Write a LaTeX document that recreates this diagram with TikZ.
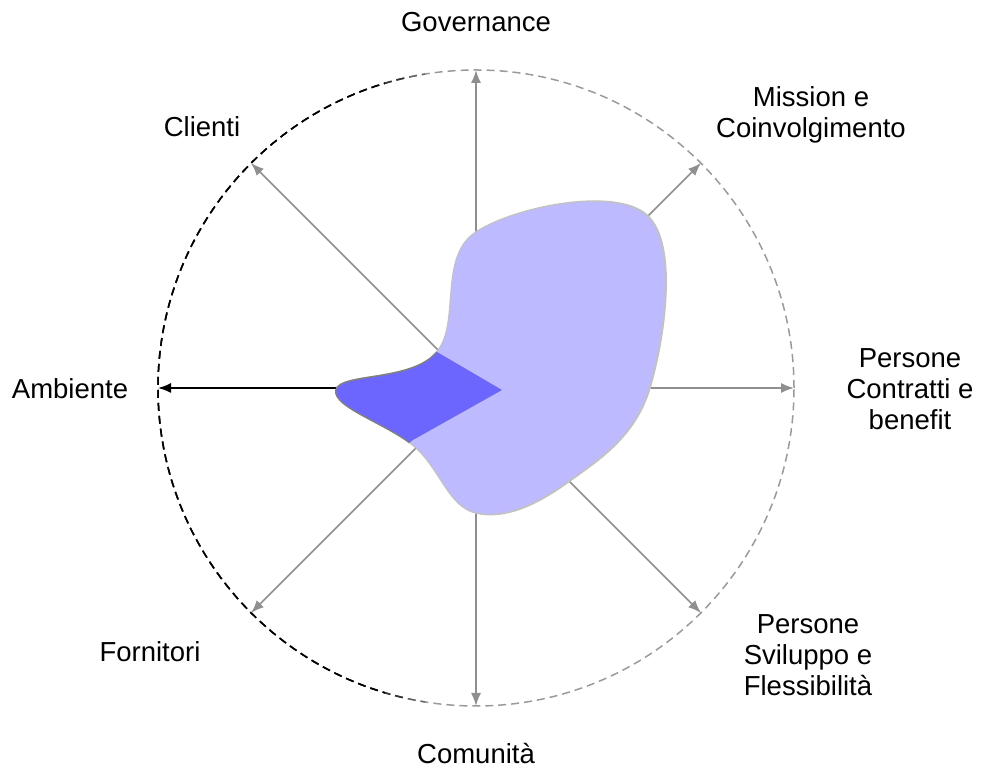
\documentclass[tikz,border=0pt]{standalone}
\usepackage{fontspec}
\setmainfont{Liberation Sans}
\usetikzlibrary{arrows.meta,calc}
\definecolor{axisgray}{HTML}{8F8F8F}
\definecolor{ringgray}{HTML}{9A9A9A}
\definecolor{lightfill}{HTML}{BDBAFF}
\definecolor{darkfill}{HTML}{6C66FF}
\definecolor{lightline}{HTML}{C2C2C2}
\definecolor{darkline}{HTML}{7F7F7F}
\tikzset{
  axisline/.style={draw=axisgray,line width=1.6pt,-{Latex[length=13pt,width=10pt]}},
  blackaxis/.style={draw=black,line width=1.6pt,-{Latex[length=13pt,width=10pt]}},
  ring/.style={line width=1.5pt,dash pattern=on 8pt off 5pt},
  lbl/.style={align=center,font=\fontsize{27.5}{31}\selectfont,inner sep=0pt}
}
\begin{document}
\begin{tikzpicture}[x=1pt,y=1pt]
\useasboundingbox (0,0) rectangle (984,770);
\coordinate (O) at (476,382);
% axis tips
\coordinate (tg) at (476,700);
\coordinate (tm) at (701,607);
\coordinate (tp) at (794,382);
\coordinate (ts) at (701,157);
\coordinate (tc) at (476,64);
\coordinate (tf) at (251,157);
\coordinate (ta) at (158,382);
\coordinate (tcl) at (251,607);
% ring: gray, fading to black on the left
\draw[ring,ringgray] (O) circle[radius=318];
\begin{scope}
\clip (0,0) rectangle (425,770);
\draw[ring,ringgray!66!black] (O) circle[radius=318];
\end{scope}
\begin{scope}
\clip (0,0) rectangle (405,770);
\draw[ring,ringgray!33!black] (O) circle[radius=318];
\end{scope}
\begin{scope}
\clip (0,0) rectangle (385,770);
\draw[ring,black] (O) circle[radius=318];
\end{scope}
% axes
\draw[axisline] (O) -- (tg);
\draw[axisline] (O) -- (tm);
\draw[axisline] (O) -- (tp);
\draw[axisline] (O) -- (ts);
\draw[axisline] (O) -- (tc);
\draw[axisline] (O) -- (tf);
\draw[axisline] (O) -- (tcl);
\draw[blackaxis] (O) -- (ta);
% shape
\def\shapepath{plot[smooth cycle,tension=0.66] coordinates {(476,538) (647,555) (650,382) (567,287) (476,257) (415,323) (336,380) (436,417)}}
\fill[lightfill] \shapepath;
\draw[lightline,line width=1.5pt] \shapepath;
\begin{scope}
\clip (437,418) -- (502,380) -- (413,330) -- (300,250) -- (300,520) -- cycle;
\fill[darkfill] \shapepath;
\draw[darkline,line width=1.6pt] \shapepath;
\end{scope}
% labels
\node[lbl] (lg) at (476,748) {Governance};
\node[lbl] (lm) at (811,655) {Mission e\\Coinvolgimento};
\node[lbl] (lp) at (910,381) {Persone\\Contratti e\\benefit};
\node[lbl] (ls) at (808,115) {Persone\\Sviluppo e\\Flessibilità};
\node[lbl] (lc) at (476,16) {Comunità};
\node[lbl] (lf) at (150,118) {Fornitori};
\node[lbl] (la) at (70,381) {Ambiente};
\node[lbl] (lcl) at (202,643) {Clienti};
\end{tikzpicture}
\end{document}
